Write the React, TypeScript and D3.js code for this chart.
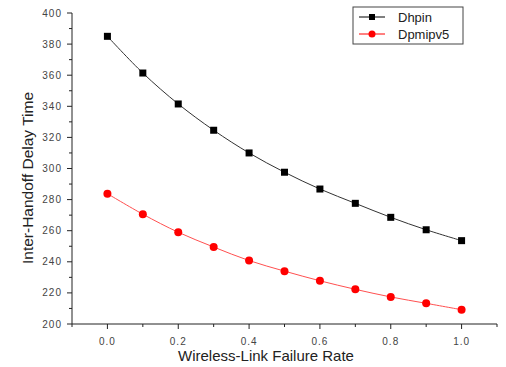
import * as d3 from 'd3';

const RATES = [0.0, 0.1, 0.2, 0.3, 0.4, 0.5, 0.6, 0.7, 0.8, 0.9, 1.0];
const DHPIN = [385, 361.4, 341.5, 324.6, 310, 297.6, 286.8, 277.6, 268.6, 260.6, 253.6];
const DPMIPV5 = [283.8, 270.6, 259, 249.5, 240.8, 234, 227.8, 222.3, 217.4, 213.3, 209.2];
const X_TICKS = [0.0, 0.2, 0.4, 0.6, 0.8, 1.0];
const Y_TICKS = [200, 220, 240, 260, 280, 300, 320, 340, 360, 380, 400];

const SERIES = [
  { name: 'Dhpin', values: DHPIN, line: '#333333', legendLine: '#000000', fill: '#000000', shape: 'square' },
  { name: 'Dpmipv5', values: DPMIPV5, line: '#ff5050', legendLine: '#ff0000', fill: '#ff0000', shape: 'circle' },
];

export default function App() {
  const W = 506;
  const H = 367;
  const margin = { top: 13, right: 9, bottom: 43, left: 72 };
  const innerW = W - margin.left - margin.right;
  const innerH = H - margin.top - margin.bottom;

  const x = d3.scaleLinear().domain([-0.1, 1.1]).range([0, innerW]);
  const y = d3.scaleLinear().domain([200, 400]).range([innerH, 0]);

  const line = d3.line<number>()
    .x((_, i) => x(RATES[i]))
    .y(d => y(d))
    .curve(d3.curveCatmullRom);

  const minorX = d3.range(-1, 12).map(i => i / 10);
  const minorY = d3.range(200, 401, 10);
  const font = 'Liberation Sans, Arial, sans-serif';

  return (
    <svg width={W} height={H} style={{ position: 'absolute', left: 0, top: 0, background: '#fff' }}>
      <g transform={`translate(${margin.left},${margin.top})`}>
        {/* axes */}
        <line x1={0} x2={0} y1={0} y2={innerH} stroke="#222" />
        <line x1={0} x2={innerW} y1={innerH} y2={innerH} stroke="#222" />
        {minorY.map(v => (
          <line key={'my' + v} x1={v % 20 === 0 ? -5 : -3} x2={0} y1={y(v)} y2={y(v)} stroke="#222" />
        ))}
        {minorX.map(v => (
          <line key={'mx' + v} x1={x(v)} x2={x(v)} y1={innerH} y2={innerH + (Math.round(v * 10) % 2 === 0 ? 5 : 3)} stroke="#222" />
        ))}
        {Y_TICKS.map(v => (
          <text key={'ty' + v} x={-10} y={y(v)} textAnchor="end" dominantBaseline="central"
            fontSize={10} letterSpacing={1} fontFamily={font} fill="#444">{v}</text>
        ))}
        {X_TICKS.map(v => (
          <text key={'tx' + v} x={x(v)} y={innerH + 17} textAnchor="middle" dominantBaseline="central"
            fontSize={10} letterSpacing={1} fontFamily={font} fill="#444">{v.toFixed(1)}</text>
        ))}

        {/* series */}
        {SERIES.map(s => (
          <g key={s.name}>
            <path d={line(s.values) ?? ''} fill="none" stroke={s.line} strokeWidth={1} />
            {s.values.map((v, i) => s.shape === 'square'
              ? <rect key={i} x={x(RATES[i]) - 3.5} y={y(v) - 3.5} width={7} height={7} fill={s.fill} />
              : <circle key={i} cx={x(RATES[i])} cy={y(v)} r={4} fill={s.fill} />)}
          </g>
        ))}
      </g>

      {/* axis titles */}
      <text transform="translate(33,178) rotate(-90)" textAnchor="middle"
        fontSize={15.5} fontFamily={font} fill="#222">Inter-Handoff Delay Time</text>
      <text x={266} y={361} textAnchor="middle" fontSize={15} fontFamily={font} fill="#222">Wireless-Link Failure Rate</text>

      {/* legend */}
      <g transform="translate(353,7)">
        <rect x={0} y={0} width={110} height={37} fill="#fff" stroke="#444" />
        {SERIES.map((s, i) => (
          <g key={s.name} transform={`translate(0,${10 + i * 17})`}>
            <line x1={6} x2={32} y1={0} y2={0} stroke={s.legendLine} />
            {s.shape === 'square'
              ? <rect x={16} y={-3} width={6} height={6} fill={s.fill} />
              : <circle cx={19} cy={0} r={3.5} fill={s.fill} />}
            <text x={45} y={0} dominantBaseline="central" fontSize={13} fontFamily={font} fill="#222">{s.name}</text>
          </g>
        ))}
      </g>
    </svg>
  );
}
